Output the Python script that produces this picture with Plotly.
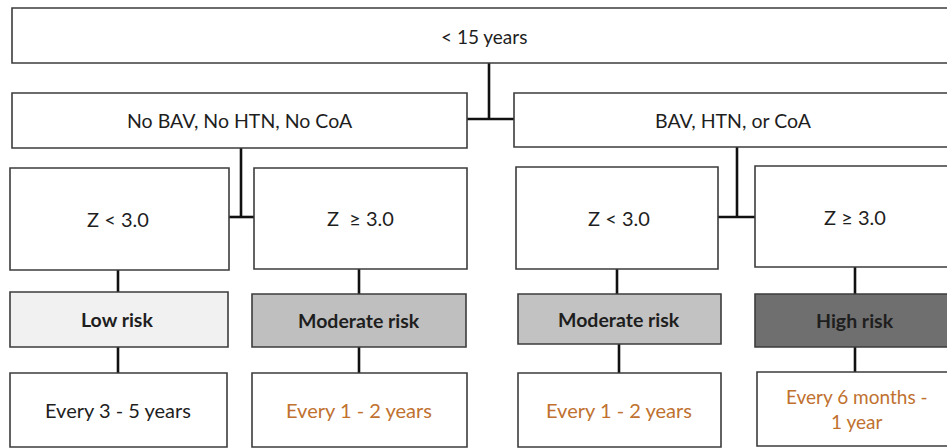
import plotly.graph_objects as go

# ---- content (text of each node) ----
node_labels = [
    "< 15 years",
    "No BAV, No HTN, No CoA",
    "BAV, HTN, or CoA",
    "Z < 3.0",
    "Z  \u2265 3.0",
    "Z < 3.0",
    "Z \u2265 3.0",
    "<b>Low risk</b>",
    "<b>Moderate risk</b>",
    "<b>Moderate risk</b>",
    "<b>High risk</b>",
    "Every 3 - 5 years",
    "Every 1 - 2 years",
    "Every 1 - 2 years",
    "Every 6 months -<br>1 year",
]

# ---- layout of the diagram (pixel coordinates: x0, y0, x1, y1) ----
node_boxes = [
    (12, 8, 960, 63),
    (12, 93, 467, 148),
    (514, 93, 960, 147),
    (10, 168, 229, 270),
    (254, 168, 467, 269),
    (516, 167, 718, 269),
    (755, 166, 960, 267),
    (10, 292, 228, 347),
    (252, 294, 466, 347),
    (518, 294, 721, 344),
    (755, 294, 960, 347),
    (10, 373, 227, 447),
    (252, 373, 467, 447),
    (518, 373, 721, 447),
    (757, 372, 960, 446),
]
node_fill = ["#ffffff"] * 7 + ["#f1f1f1", "#bfbfbf", "#c2c2c2", "#6f6f6f"] + ["#ffffff"] * 4
node_text_color = ["#1e1e1e"] * 11 + ["#1e1e1e", "#c0712f", "#c0712f", "#c0712f"]
node_text_x = [484, 240, 733, 118, 360, 619, 855, 117, 359, 619, 855, 118, 359, 619, 857]
node_text_y = [36, 120, 120, 219, 218, 218, 217, 319, 320, 319, 320, 410, 410, 410, 409]
node_font_size = [19, 19.5, 19.5, 20, 20, 20, 20, 19.5, 19.5, 19.5, 19.5, 20, 20, 20, 19]

# connector polylines
connectors = [
    [(489, 63), (489, 119)],
    [(467, 119), (514, 119)],
    [(241, 148), (241, 217)],
    [(229, 217), (254, 217)],
    [(737, 147), (737, 217)],
    [(718, 217), (755, 217)],
    [(118, 270), (118, 292)],
    [(359, 269), (359, 294)],
    [(617, 269), (617, 294)],
    [(855, 267), (855, 294)],
    [(118, 347), (118, 373)],
    [(359, 347), (359, 373)],
    [(619, 344), (619, 373)],
    [(855, 347), (855, 372)],
]

W, H = 947, 448
fig = go.Figure()

shapes = []
for pts in connectors:
    xs = [p[0] for p in pts]
    ys = [p[1] for p in pts]
    fig.add_trace(go.Scatter(x=xs, y=ys, mode="lines",
                             line=dict(color="#111111", width=2.6),
                             hoverinfo="skip", showlegend=False))

for (x0, y0, x1, y1), fill in zip(node_boxes, node_fill):
    shapes.append(dict(type="rect", xref="x", yref="y", x0=x0, y0=y0, x1=x1, y1=y1,
                       line=dict(color="#3c3c3c", width=1.6), fillcolor=fill, layer="above"))

annotations = []
for lab, tx, ty, col, fs in zip(node_labels, node_text_x, node_text_y,
                                node_text_color, node_font_size):
    annotations.append(dict(x=tx, y=ty, xref="x", yref="y", text=lab,
                            showarrow=False, font=dict(family="Lato", size=fs, color=col),
                            xanchor="center", yanchor="middle"))

fig.update_layout(
    width=W, height=H, margin=dict(l=0, r=0, t=0, b=0),
    paper_bgcolor="white", plot_bgcolor="white",
    xaxis=dict(range=[0, W], visible=False, fixedrange=True),
    yaxis=dict(range=[H, 0], visible=False, fixedrange=True),
    shapes=shapes, annotations=annotations, showlegend=False,
)

fig.write_html("out.html", config={"displayModeBar": False},
               post_script="document.body.style.margin='0';document.body.style.overflow='hidden';")
